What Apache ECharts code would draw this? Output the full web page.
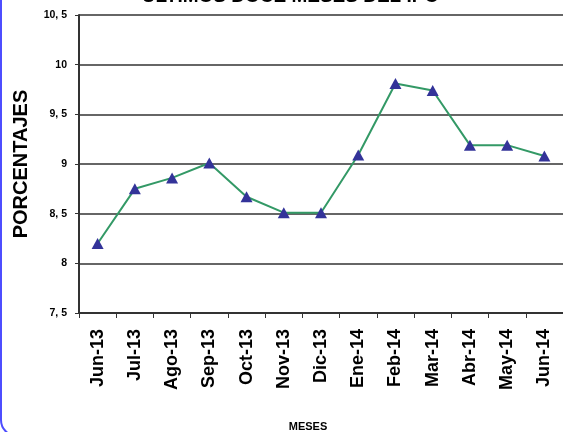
<!DOCTYPE html>
<html>
<head>
<meta charset="utf-8">
<script src="https://cdn.jsdelivr.net/npm/echarts@6/dist/echarts.min.js"></script>
<style>
html,body{margin:0;padding:0;background:#fff;}
#chart{width:563px;height:432px;}
</style>
</head>
<body>
<div id="chart"></div>
<script>
var titleText = 'ÚLTIMOS DOCE MESES DEL IPC';
var months = ['Jun-13','Jul-13','Ago-13','Sep-13','Oct-13','Nov-13','Dic-13','Ene-14','Feb-14','Mar-14','Abr-14','May-14','Jun-14'];
var ipc = [8.2, 8.75, 8.86, 9.01, 8.67, 8.51, 8.51, 9.09, 9.81, 9.74, 9.19, 9.19, 9.08];
var yMin = 7.5, yMax = 10.5, yStep = 0.5;

var chart = echarts.init(document.getElementById('chart'), null, {renderer:'canvas'});
var FONT = 'Liberation Sans, Arial, sans-serif';
chart.setOption({
  animation:false,
  backgroundColor:'#fff',
  grid:{left:79, top:15, right:-9, bottom:119, containLabel:false},
  graphic:[
    {type:'rect', shape:{x:1, y:-20, width:700, height:456, r:16}, style:{fill:null, stroke:'#4d4dff', lineWidth:2}, z:100},
    {type:'text', x:290, y:6, style:{text:titleText, font:'bold 19px ' + FONT, fill:'#000', textAlign:'center', textVerticalAlign:'bottom'}},
    {type:'text', x:308, y:427, style:{text:'MESES', font:'bold 11px ' + FONT, fill:'#000', textAlign:'center', textVerticalAlign:'middle'}},
    {type:'text', x:21, y:164, rotation:Math.PI/2, style:{text:'PORCENTAJES', font:'bold 20px ' + FONT, fill:'#000', textAlign:'center', textVerticalAlign:'middle'}}
  ],
  xAxis:{
    type:'category', data:months, boundaryGap:true,
    axisLine:{lineStyle:{color:'#333', width:2}},
    axisTick:{show:true, alignWithLabel:false, length:5, lineStyle:{color:'#333'}},
    axisLabel:{rotate:90, margin:16, fontSize:18, fontWeight:'bold', color:'#000', fontFamily:FONT, interval:0},
    splitLine:{show:false}
  },
  yAxis:{
    type:'value', min:yMin, max:yMax, interval:yStep,
    axisLine:{show:true, lineStyle:{color:'#333', width:2}},
    axisTick:{show:true, length:4, lineStyle:{color:'#333'}},
    axisLabel:{margin:12, fontSize:10.5, fontWeight:'bold', color:'#000', fontFamily:FONT,
      formatter:function(v){ return String(v).replace('.', ', '); }},
    splitLine:{show:true, lineStyle:{color:'#333', width:1.5}}
  },
  series:[{
    type:'line', data:ipc,
    lineStyle:{color:'#339966', width:2},
    itemStyle:{color:'#333399'},
    symbol:'triangle', symbolSize:[12,11], showSymbol:true
  }]
});
</script>
</body>
</html>
